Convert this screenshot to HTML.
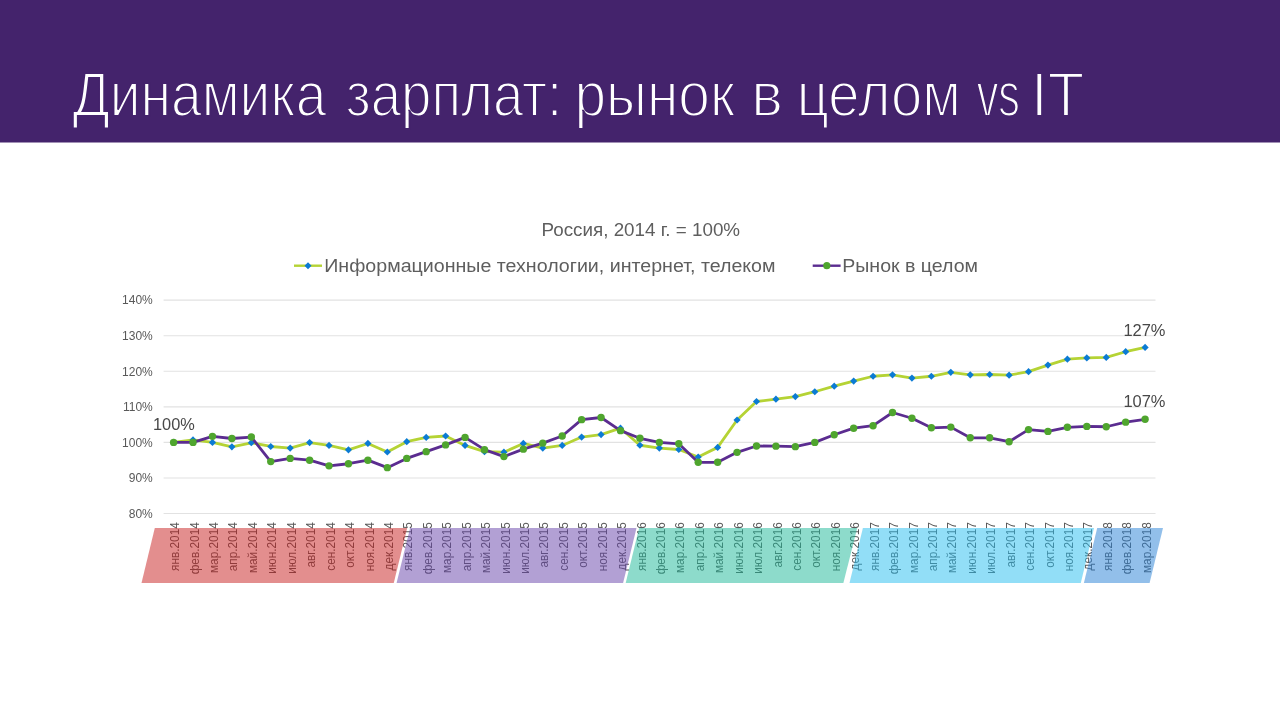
<!DOCTYPE html>
<html lang="ru"><head><meta charset="utf-8"><title>Динамика зарплат: рынок в целом vs IT</title>
<style>
html,body{margin:0;padding:0;background:#fff;}
body{width:1280px;height:720px;overflow:hidden;font-family:"Liberation Sans",sans-serif;}
svg{display:block;position:absolute;left:0;top:0;}
text{font-family:"Liberation Sans",sans-serif;}
.ttl{font-size:63.5px;fill:#fff;stroke:#44236C;stroke-width:2px;paint-order:fill stroke;}
.ax{font-size:12px;fill:#595959;}
.cat{font-size:12px;fill:#595959;}
.lg{font-size:18.5px;fill:#5e5e5e;}
.dl{font-size:16.3px;fill:#484848;}
</style></head><body>
<svg width="1280" height="720" viewBox="0 0 1280 720">
<rect x="0" y="0" width="1280" height="720" fill="#ffffff"/>
<rect x="0" y="0" width="1280" height="142.5" fill="#44236C"/>

<text class="ttl" transform="translate(72.4 116.3) scale(0.8685 1)">Динамика</text>
<text class="ttl" transform="translate(345.74 116.3) scale(0.8598 1)">зарплат:</text>
<text class="ttl" transform="translate(574.42 116.3) scale(0.896 1)">рынок</text>
<text class="ttl" transform="translate(751.24 116.3) scale(0.9407 1)">в</text>
<text class="ttl" transform="translate(796.87 116.3) scale(0.8834 1)">целом</text>
<text class="ttl" transform="translate(976.7 116.3) scale(0.6818 1)">vs</text>
<text class="ttl" transform="translate(1031.1 116.3) scale(0.9399 1)">IT</text>
<line x1="163.6" x2="1155.5" y1="513.52" y2="513.52" stroke="#E2E2E2" stroke-width="1.15"/>
<text class="ax" x="152.8" y="517.82" text-anchor="end">80%</text>
<line x1="163.6" x2="1155.5" y1="477.96" y2="477.96" stroke="#E2E2E2" stroke-width="1.15"/>
<text class="ax" x="152.8" y="482.26" text-anchor="end">90%</text>
<line x1="163.6" x2="1155.5" y1="442.40" y2="442.40" stroke="#E2E2E2" stroke-width="1.15"/>
<text class="ax" x="152.8" y="446.70" text-anchor="end">100%</text>
<line x1="163.6" x2="1155.5" y1="406.84" y2="406.84" stroke="#E2E2E2" stroke-width="1.15"/>
<text class="ax" x="152.8" y="411.14" text-anchor="end">110%</text>
<line x1="163.6" x2="1155.5" y1="371.28" y2="371.28" stroke="#E2E2E2" stroke-width="1.15"/>
<text class="ax" x="152.8" y="375.58" text-anchor="end">120%</text>
<line x1="163.6" x2="1155.5" y1="335.72" y2="335.72" stroke="#E2E2E2" stroke-width="1.15"/>
<text class="ax" x="152.8" y="340.02" text-anchor="end">130%</text>
<line x1="163.6" x2="1155.5" y1="300.16" y2="300.16" stroke="#E2E2E2" stroke-width="1.15"/>
<text class="ax" x="152.8" y="304.46" text-anchor="end">140%</text>
<text class="lg" transform="translate(541.48 235.6) scale(1.0174 1)">Россия, 2014 г. = 100%</text>
<line x1="294" x2="322" y1="265.7" y2="265.7" stroke="#B5D334" stroke-width="2.4"/>
<path d="M308 262.2 L311.5 265.7 L308 269.2 L304.5 265.7 Z" fill="#0B7BD4"/>
<text class="lg" transform="translate(324.24 271.9) scale(1.0612 1)">Информационные технологии, интернет, телеком</text>
<line x1="812.7" x2="840.6" y1="265.7" y2="265.7" stroke="#5B2C90" stroke-width="2.4"/>
<circle cx="826.8" cy="265.7" r="3.6" fill="#4FA52E"/>
<text class="lg" transform="translate(842.24 271.9) scale(1.0584 1)">Рынок в целом</text>
<text class="cat" text-anchor="end" transform="translate(179.20 522.2) rotate(-90) scale(0.985 1)">янв.2014</text>
<text class="cat" text-anchor="end" transform="translate(198.63 522.2) rotate(-90) scale(0.985 1)">фев.2014</text>
<text class="cat" text-anchor="end" transform="translate(218.06 522.2) rotate(-90) scale(0.985 1)">мар.2014</text>
<text class="cat" text-anchor="end" transform="translate(237.49 522.2) rotate(-90) scale(0.985 1)">апр.2014</text>
<text class="cat" text-anchor="end" transform="translate(256.92 522.2) rotate(-90) scale(0.985 1)">май.2014</text>
<text class="cat" text-anchor="end" transform="translate(276.35 522.2) rotate(-90) scale(0.985 1)">июн.2014</text>
<text class="cat" text-anchor="end" transform="translate(295.78 522.2) rotate(-90) scale(0.985 1)">июл.2014</text>
<text class="cat" text-anchor="end" transform="translate(315.21 522.2) rotate(-90) scale(0.985 1)">авг.2014</text>
<text class="cat" text-anchor="end" transform="translate(334.64 522.2) rotate(-90) scale(0.985 1)">сен.2014</text>
<text class="cat" text-anchor="end" transform="translate(354.07 522.2) rotate(-90) scale(0.985 1)">окт.2014</text>
<text class="cat" text-anchor="end" transform="translate(373.50 522.2) rotate(-90) scale(0.985 1)">ноя.2014</text>
<text class="cat" text-anchor="end" transform="translate(392.93 522.2) rotate(-90) scale(0.985 1)">дек.2014</text>
<text class="cat" text-anchor="end" transform="translate(412.36 522.2) rotate(-90) scale(0.985 1)">янв.2015</text>
<text class="cat" text-anchor="end" transform="translate(431.79 522.2) rotate(-90) scale(0.985 1)">фев.2015</text>
<text class="cat" text-anchor="end" transform="translate(451.22 522.2) rotate(-90) scale(0.985 1)">мар.2015</text>
<text class="cat" text-anchor="end" transform="translate(470.65 522.2) rotate(-90) scale(0.985 1)">апр.2015</text>
<text class="cat" text-anchor="end" transform="translate(490.08 522.2) rotate(-90) scale(0.985 1)">май.2015</text>
<text class="cat" text-anchor="end" transform="translate(509.51 522.2) rotate(-90) scale(0.985 1)">июн.2015</text>
<text class="cat" text-anchor="end" transform="translate(528.94 522.2) rotate(-90) scale(0.985 1)">июл.2015</text>
<text class="cat" text-anchor="end" transform="translate(548.37 522.2) rotate(-90) scale(0.985 1)">авг.2015</text>
<text class="cat" text-anchor="end" transform="translate(567.80 522.2) rotate(-90) scale(0.985 1)">сен.2015</text>
<text class="cat" text-anchor="end" transform="translate(587.23 522.2) rotate(-90) scale(0.985 1)">окт.2015</text>
<text class="cat" text-anchor="end" transform="translate(606.66 522.2) rotate(-90) scale(0.985 1)">ноя.2015</text>
<text class="cat" text-anchor="end" transform="translate(626.09 522.2) rotate(-90) scale(0.985 1)">дек.2015</text>
<text class="cat" text-anchor="end" transform="translate(645.52 522.2) rotate(-90) scale(0.985 1)">янв.2016</text>
<text class="cat" text-anchor="end" transform="translate(664.95 522.2) rotate(-90) scale(0.985 1)">фев.2016</text>
<text class="cat" text-anchor="end" transform="translate(684.38 522.2) rotate(-90) scale(0.985 1)">мар.2016</text>
<text class="cat" text-anchor="end" transform="translate(703.81 522.2) rotate(-90) scale(0.985 1)">апр.2016</text>
<text class="cat" text-anchor="end" transform="translate(723.24 522.2) rotate(-90) scale(0.985 1)">май.2016</text>
<text class="cat" text-anchor="end" transform="translate(742.67 522.2) rotate(-90) scale(0.985 1)">июн.2016</text>
<text class="cat" text-anchor="end" transform="translate(762.10 522.2) rotate(-90) scale(0.985 1)">июл.2016</text>
<text class="cat" text-anchor="end" transform="translate(781.53 522.2) rotate(-90) scale(0.985 1)">авг.2016</text>
<text class="cat" text-anchor="end" transform="translate(800.96 522.2) rotate(-90) scale(0.985 1)">сен.2016</text>
<text class="cat" text-anchor="end" transform="translate(820.39 522.2) rotate(-90) scale(0.985 1)">окт.2016</text>
<text class="cat" text-anchor="end" transform="translate(839.82 522.2) rotate(-90) scale(0.985 1)">ноя.2016</text>
<text class="cat" text-anchor="end" transform="translate(859.25 522.2) rotate(-90) scale(0.985 1)">дек.2016</text>
<text class="cat" text-anchor="end" transform="translate(878.68 522.2) rotate(-90) scale(0.985 1)">янв.2017</text>
<text class="cat" text-anchor="end" transform="translate(898.11 522.2) rotate(-90) scale(0.985 1)">фев.2017</text>
<text class="cat" text-anchor="end" transform="translate(917.54 522.2) rotate(-90) scale(0.985 1)">мар.2017</text>
<text class="cat" text-anchor="end" transform="translate(936.97 522.2) rotate(-90) scale(0.985 1)">апр.2017</text>
<text class="cat" text-anchor="end" transform="translate(956.40 522.2) rotate(-90) scale(0.985 1)">май.2017</text>
<text class="cat" text-anchor="end" transform="translate(975.83 522.2) rotate(-90) scale(0.985 1)">июн.2017</text>
<text class="cat" text-anchor="end" transform="translate(995.26 522.2) rotate(-90) scale(0.985 1)">июл.2017</text>
<text class="cat" text-anchor="end" transform="translate(1014.69 522.2) rotate(-90) scale(0.985 1)">авг.2017</text>
<text class="cat" text-anchor="end" transform="translate(1034.12 522.2) rotate(-90) scale(0.985 1)">сен.2017</text>
<text class="cat" text-anchor="end" transform="translate(1053.55 522.2) rotate(-90) scale(0.985 1)">окт.2017</text>
<text class="cat" text-anchor="end" transform="translate(1072.98 522.2) rotate(-90) scale(0.985 1)">ноя.2017</text>
<text class="cat" text-anchor="end" transform="translate(1092.41 522.2) rotate(-90) scale(0.985 1)">дек.2017</text>
<text class="cat" text-anchor="end" transform="translate(1111.84 522.2) rotate(-90) scale(0.985 1)">янв.2018</text>
<text class="cat" text-anchor="end" transform="translate(1131.27 522.2) rotate(-90) scale(0.985 1)">фев.2018</text>
<text class="cat" text-anchor="end" transform="translate(1150.70 522.2) rotate(-90) scale(0.985 1)">мар.2018</text>
<path d="M154.8 528.1 L407.2 528.1 L393.75 582.9 L141.5 582.9 Z" fill="rgb(199, 29, 29)" fill-opacity="0.5"/>
<path d="M410.1 528.1 L636.5 528.1 L623.1 582.9 L396.6 582.9 Z" fill="rgb(101, 65, 169)" fill-opacity="0.5"/>
<path d="M639.1 528.1 L857.2 528.1 L843.4 582.9 L625.7 582.9 Z" fill="rgb(27, 183, 151)" fill-opacity="0.5"/>
<path d="M862.9 528.1 L1094 528.1 L1080.8 582.9 L849.5 582.9 Z" fill="rgb(37, 189, 239)" fill-opacity="0.5"/>
<path d="M1097.2 528.1 L1163 528.1 L1149.6 582.9 L1083.9 582.9 Z" fill="rgb(37, 127, 213)" fill-opacity="0.5"/>
<polyline points="173.60,442.40 193.03,439.91 212.46,442.40 231.89,446.84 251.32,442.76 270.75,446.49 290.18,448.09 309.61,442.58 329.04,445.42 348.47,449.87 367.90,443.47 387.33,452.00 406.76,441.69 426.19,437.42 445.62,436.00 465.05,445.42 484.48,451.65 503.91,452.18 523.34,443.47 542.77,448.09 562.20,445.42 581.63,437.07 601.06,434.58 620.49,428.18 639.92,445.24 659.35,448.09 678.78,449.51 698.21,456.98 717.64,447.38 737.07,420.00 756.50,401.51 775.93,399.19 795.36,396.53 814.79,391.73 834.22,386.22 853.65,381.06 873.08,376.26 892.51,374.84 911.94,378.04 931.37,376.26 950.80,372.35 970.23,374.84 989.66,374.48 1009.09,375.19 1028.52,371.64 1047.95,365.06 1067.38,359.19 1086.81,357.94 1106.24,357.41 1125.67,351.72 1145.10,347.45" fill="none" stroke="#B5D334" stroke-width="2.8" stroke-linejoin="round" stroke-linecap="round"/>
<path d="M173.60 438.80 L177.20 442.40 L173.60 446.00 L170.00 442.40 Z" fill="#0B7BD4"/>
<path d="M193.03 436.31 L196.63 439.91 L193.03 443.51 L189.43 439.91 Z" fill="#0B7BD4"/>
<path d="M212.46 438.80 L216.06 442.40 L212.46 446.00 L208.86 442.40 Z" fill="#0B7BD4"/>
<path d="M231.89 443.24 L235.49 446.84 L231.89 450.44 L228.29 446.84 Z" fill="#0B7BD4"/>
<path d="M251.32 439.16 L254.92 442.76 L251.32 446.36 L247.72 442.76 Z" fill="#0B7BD4"/>
<path d="M270.75 442.89 L274.35 446.49 L270.75 450.09 L267.15 446.49 Z" fill="#0B7BD4"/>
<path d="M290.18 444.49 L293.78 448.09 L290.18 451.69 L286.58 448.09 Z" fill="#0B7BD4"/>
<path d="M309.61 438.98 L313.21 442.58 L309.61 446.18 L306.01 442.58 Z" fill="#0B7BD4"/>
<path d="M329.04 441.82 L332.64 445.42 L329.04 449.02 L325.44 445.42 Z" fill="#0B7BD4"/>
<path d="M348.47 446.27 L352.07 449.87 L348.47 453.47 L344.87 449.87 Z" fill="#0B7BD4"/>
<path d="M367.90 439.87 L371.50 443.47 L367.90 447.07 L364.30 443.47 Z" fill="#0B7BD4"/>
<path d="M387.33 448.40 L390.93 452.00 L387.33 455.60 L383.73 452.00 Z" fill="#0B7BD4"/>
<path d="M406.76 438.09 L410.36 441.69 L406.76 445.29 L403.16 441.69 Z" fill="#0B7BD4"/>
<path d="M426.19 433.82 L429.79 437.42 L426.19 441.02 L422.59 437.42 Z" fill="#0B7BD4"/>
<path d="M445.62 432.40 L449.22 436.00 L445.62 439.60 L442.02 436.00 Z" fill="#0B7BD4"/>
<path d="M465.05 441.82 L468.65 445.42 L465.05 449.02 L461.45 445.42 Z" fill="#0B7BD4"/>
<path d="M484.48 448.05 L488.08 451.65 L484.48 455.25 L480.88 451.65 Z" fill="#0B7BD4"/>
<path d="M503.91 448.58 L507.51 452.18 L503.91 455.78 L500.31 452.18 Z" fill="#0B7BD4"/>
<path d="M523.34 439.87 L526.94 443.47 L523.34 447.07 L519.74 443.47 Z" fill="#0B7BD4"/>
<path d="M542.77 444.49 L546.37 448.09 L542.77 451.69 L539.17 448.09 Z" fill="#0B7BD4"/>
<path d="M562.20 441.82 L565.80 445.42 L562.20 449.02 L558.60 445.42 Z" fill="#0B7BD4"/>
<path d="M581.63 433.47 L585.23 437.07 L581.63 440.67 L578.03 437.07 Z" fill="#0B7BD4"/>
<path d="M601.06 430.98 L604.66 434.58 L601.06 438.18 L597.46 434.58 Z" fill="#0B7BD4"/>
<path d="M620.49 424.58 L624.09 428.18 L620.49 431.78 L616.89 428.18 Z" fill="#0B7BD4"/>
<path d="M639.92 441.64 L643.52 445.24 L639.92 448.84 L636.32 445.24 Z" fill="#0B7BD4"/>
<path d="M659.35 444.49 L662.95 448.09 L659.35 451.69 L655.75 448.09 Z" fill="#0B7BD4"/>
<path d="M678.78 445.91 L682.38 449.51 L678.78 453.11 L675.18 449.51 Z" fill="#0B7BD4"/>
<path d="M698.21 453.38 L701.81 456.98 L698.21 460.58 L694.61 456.98 Z" fill="#0B7BD4"/>
<path d="M717.64 443.78 L721.24 447.38 L717.64 450.98 L714.04 447.38 Z" fill="#0B7BD4"/>
<path d="M737.07 416.40 L740.67 420.00 L737.07 423.60 L733.47 420.00 Z" fill="#0B7BD4"/>
<path d="M756.50 397.91 L760.10 401.51 L756.50 405.11 L752.90 401.51 Z" fill="#0B7BD4"/>
<path d="M775.93 395.59 L779.53 399.19 L775.93 402.79 L772.33 399.19 Z" fill="#0B7BD4"/>
<path d="M795.36 392.93 L798.96 396.53 L795.36 400.13 L791.76 396.53 Z" fill="#0B7BD4"/>
<path d="M814.79 388.13 L818.39 391.73 L814.79 395.33 L811.19 391.73 Z" fill="#0B7BD4"/>
<path d="M834.22 382.62 L837.82 386.22 L834.22 389.82 L830.62 386.22 Z" fill="#0B7BD4"/>
<path d="M853.65 377.46 L857.25 381.06 L853.65 384.66 L850.05 381.06 Z" fill="#0B7BD4"/>
<path d="M873.08 372.66 L876.68 376.26 L873.08 379.86 L869.48 376.26 Z" fill="#0B7BD4"/>
<path d="M892.51 371.24 L896.11 374.84 L892.51 378.44 L888.91 374.84 Z" fill="#0B7BD4"/>
<path d="M911.94 374.44 L915.54 378.04 L911.94 381.64 L908.34 378.04 Z" fill="#0B7BD4"/>
<path d="M931.37 372.66 L934.97 376.26 L931.37 379.86 L927.77 376.26 Z" fill="#0B7BD4"/>
<path d="M950.80 368.75 L954.40 372.35 L950.80 375.95 L947.20 372.35 Z" fill="#0B7BD4"/>
<path d="M970.23 371.24 L973.83 374.84 L970.23 378.44 L966.63 374.84 Z" fill="#0B7BD4"/>
<path d="M989.66 370.88 L993.26 374.48 L989.66 378.08 L986.06 374.48 Z" fill="#0B7BD4"/>
<path d="M1009.09 371.59 L1012.69 375.19 L1009.09 378.79 L1005.49 375.19 Z" fill="#0B7BD4"/>
<path d="M1028.52 368.04 L1032.12 371.64 L1028.52 375.24 L1024.92 371.64 Z" fill="#0B7BD4"/>
<path d="M1047.95 361.46 L1051.55 365.06 L1047.95 368.66 L1044.35 365.06 Z" fill="#0B7BD4"/>
<path d="M1067.38 355.59 L1070.98 359.19 L1067.38 362.79 L1063.78 359.19 Z" fill="#0B7BD4"/>
<path d="M1086.81 354.34 L1090.41 357.94 L1086.81 361.55 L1083.21 357.94 Z" fill="#0B7BD4"/>
<path d="M1106.24 353.81 L1109.84 357.41 L1106.24 361.01 L1102.64 357.41 Z" fill="#0B7BD4"/>
<path d="M1125.67 348.12 L1129.27 351.72 L1125.67 355.32 L1122.07 351.72 Z" fill="#0B7BD4"/>
<path d="M1145.10 343.85 L1148.70 347.45 L1145.10 351.05 L1141.50 347.45 Z" fill="#0B7BD4"/>
<polyline points="173.60,442.40 193.03,442.40 212.46,436.35 231.89,438.49 251.32,437.07 270.75,461.60 290.18,458.40 309.61,460.18 329.04,465.87 348.47,463.74 367.90,460.18 387.33,467.65 406.76,458.40 426.19,451.65 445.62,444.89 465.05,437.42 484.48,449.69 503.91,456.62 523.34,449.16 542.77,443.11 562.20,436.00 581.63,419.64 601.06,417.51 620.49,430.67 639.92,438.31 659.35,442.40 678.78,443.82 698.21,462.31 717.64,462.31 737.07,452.36 756.50,445.96 775.93,446.13 795.36,446.67 814.79,442.40 834.22,434.75 853.65,428.18 873.08,425.69 892.51,412.53 911.94,418.22 931.37,427.82 950.80,427.11 970.23,437.78 989.66,437.78 1009.09,441.69 1028.52,429.60 1047.95,431.38 1067.38,427.29 1086.81,426.40 1106.24,426.75 1125.67,422.13 1145.10,419.29" fill="none" stroke="#5B2C90" stroke-width="2.8" stroke-linejoin="round" stroke-linecap="round"/>
<circle cx="173.60" cy="442.40" r="3.7" fill="#4FA52E"/>
<circle cx="193.03" cy="442.40" r="3.7" fill="#4FA52E"/>
<circle cx="212.46" cy="436.35" r="3.7" fill="#4FA52E"/>
<circle cx="231.89" cy="438.49" r="3.7" fill="#4FA52E"/>
<circle cx="251.32" cy="437.07" r="3.7" fill="#4FA52E"/>
<circle cx="270.75" cy="461.60" r="3.7" fill="#4FA52E"/>
<circle cx="290.18" cy="458.40" r="3.7" fill="#4FA52E"/>
<circle cx="309.61" cy="460.18" r="3.7" fill="#4FA52E"/>
<circle cx="329.04" cy="465.87" r="3.7" fill="#4FA52E"/>
<circle cx="348.47" cy="463.74" r="3.7" fill="#4FA52E"/>
<circle cx="367.90" cy="460.18" r="3.7" fill="#4FA52E"/>
<circle cx="387.33" cy="467.65" r="3.7" fill="#4FA52E"/>
<circle cx="406.76" cy="458.40" r="3.7" fill="#4FA52E"/>
<circle cx="426.19" cy="451.65" r="3.7" fill="#4FA52E"/>
<circle cx="445.62" cy="444.89" r="3.7" fill="#4FA52E"/>
<circle cx="465.05" cy="437.42" r="3.7" fill="#4FA52E"/>
<circle cx="484.48" cy="449.69" r="3.7" fill="#4FA52E"/>
<circle cx="503.91" cy="456.62" r="3.7" fill="#4FA52E"/>
<circle cx="523.34" cy="449.16" r="3.7" fill="#4FA52E"/>
<circle cx="542.77" cy="443.11" r="3.7" fill="#4FA52E"/>
<circle cx="562.20" cy="436.00" r="3.7" fill="#4FA52E"/>
<circle cx="581.63" cy="419.64" r="3.7" fill="#4FA52E"/>
<circle cx="601.06" cy="417.51" r="3.7" fill="#4FA52E"/>
<circle cx="620.49" cy="430.67" r="3.7" fill="#4FA52E"/>
<circle cx="639.92" cy="438.31" r="3.7" fill="#4FA52E"/>
<circle cx="659.35" cy="442.40" r="3.7" fill="#4FA52E"/>
<circle cx="678.78" cy="443.82" r="3.7" fill="#4FA52E"/>
<circle cx="698.21" cy="462.31" r="3.7" fill="#4FA52E"/>
<circle cx="717.64" cy="462.31" r="3.7" fill="#4FA52E"/>
<circle cx="737.07" cy="452.36" r="3.7" fill="#4FA52E"/>
<circle cx="756.50" cy="445.96" r="3.7" fill="#4FA52E"/>
<circle cx="775.93" cy="446.13" r="3.7" fill="#4FA52E"/>
<circle cx="795.36" cy="446.67" r="3.7" fill="#4FA52E"/>
<circle cx="814.79" cy="442.40" r="3.7" fill="#4FA52E"/>
<circle cx="834.22" cy="434.75" r="3.7" fill="#4FA52E"/>
<circle cx="853.65" cy="428.18" r="3.7" fill="#4FA52E"/>
<circle cx="873.08" cy="425.69" r="3.7" fill="#4FA52E"/>
<circle cx="892.51" cy="412.53" r="3.7" fill="#4FA52E"/>
<circle cx="911.94" cy="418.22" r="3.7" fill="#4FA52E"/>
<circle cx="931.37" cy="427.82" r="3.7" fill="#4FA52E"/>
<circle cx="950.80" cy="427.11" r="3.7" fill="#4FA52E"/>
<circle cx="970.23" cy="437.78" r="3.7" fill="#4FA52E"/>
<circle cx="989.66" cy="437.78" r="3.7" fill="#4FA52E"/>
<circle cx="1009.09" cy="441.69" r="3.7" fill="#4FA52E"/>
<circle cx="1028.52" cy="429.60" r="3.7" fill="#4FA52E"/>
<circle cx="1047.95" cy="431.38" r="3.7" fill="#4FA52E"/>
<circle cx="1067.38" cy="427.29" r="3.7" fill="#4FA52E"/>
<circle cx="1086.81" cy="426.40" r="3.7" fill="#4FA52E"/>
<circle cx="1106.24" cy="426.75" r="3.7" fill="#4FA52E"/>
<circle cx="1125.67" cy="422.13" r="3.7" fill="#4FA52E"/>
<circle cx="1145.10" cy="419.29" r="3.7" fill="#4FA52E"/>
<text class="dl" transform="translate(153.0 430.3) scale(1.0034 1)">100%</text>
<text class="dl" transform="translate(1123.39 335.5) scale(1.0108 1)">127%</text>
<text class="dl" transform="translate(1123.39 406.6) scale(1.0108 1)">107%</text>
</svg></body></html>
